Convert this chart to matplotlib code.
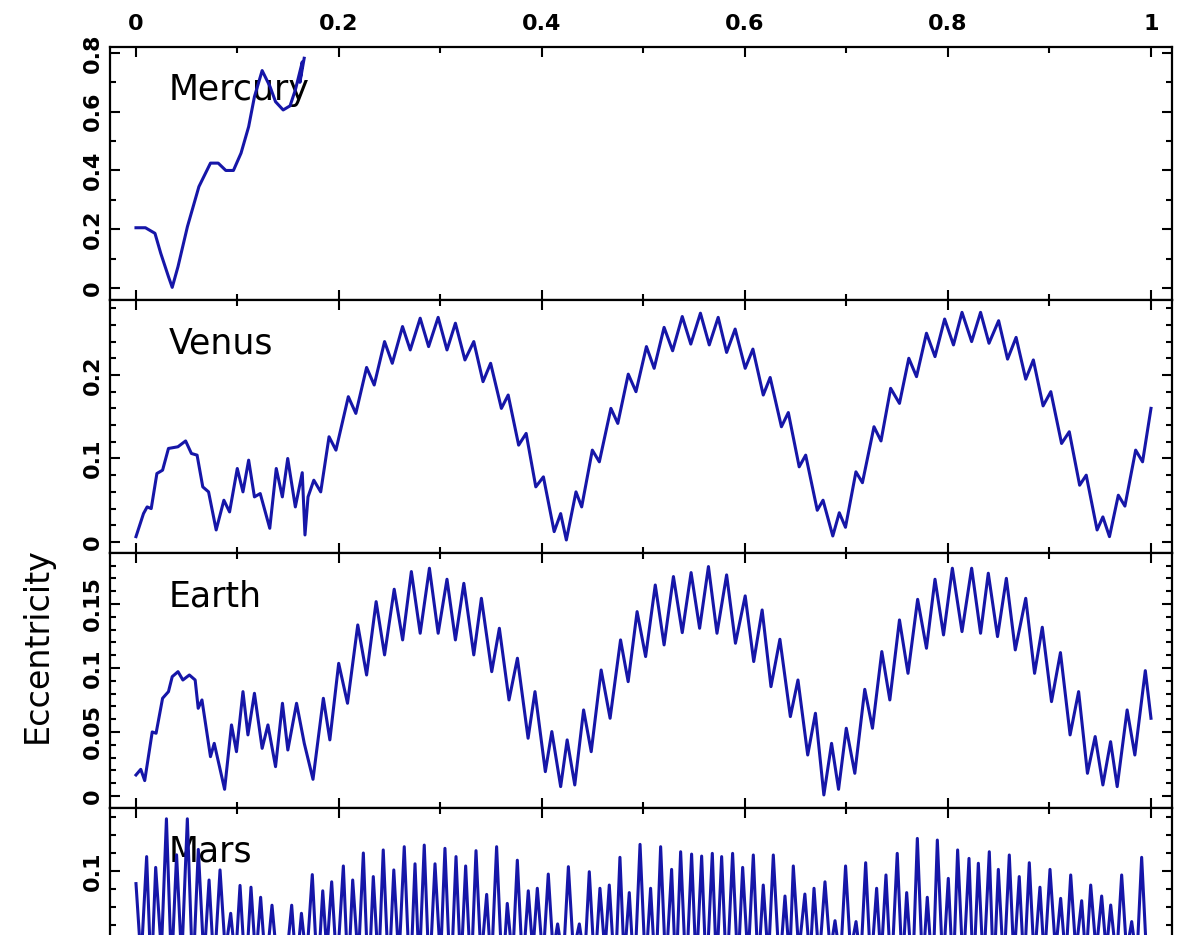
import numpy as np
import matplotlib
matplotlib.use('Agg')
import matplotlib.pyplot as plt
from matplotlib.ticker import MultipleLocator

# eccentricity of the inner planets vs. time (normalised)

mercury_t = [0.0, 0.0093, 0.0187, 0.0244, 0.032, 0.0357, 0.0414, 0.0507, 0.062,
             0.0734, 0.081, 0.0885, 0.096, 0.1035, 0.111, 0.1167, 0.1243, 0.132,
             0.1375, 0.145, 0.1518, 0.157, 0.1639, 0.1615, 0.1657]
mercury_e = [0.205, 0.205, 0.186, 0.118, 0.0385, 0.002, 0.0726, 0.209, 0.345,
             0.425, 0.425, 0.40, 0.40, 0.459, 0.549, 0.651, 0.74, 0.686,
             0.634, 0.606, 0.62, 0.674, 0.77, 0.70, 0.782]

venus_t = [0.0, 0.0074, 0.011, 0.015, 0.0206, 0.0262, 0.032, 0.0413, 0.0489, 0.0546,
           0.0602, 0.0658, 0.0715, 0.079, 0.0866, 0.0922, 0.0998, 0.1054, 0.111, 0.1167,
           0.1224, 0.1318, 0.1382, 0.1442, 0.1495, 0.157, 0.1638, 0.1665, 0.1695, 0.1752,
           0.182, 0.1902, 0.197, 0.2092, 0.2166, 0.2272, 0.2347, 0.2449, 0.2525, 0.2626,
           0.2702, 0.28, 0.2883, 0.2977, 0.3064, 0.3147, 0.3241, 0.3328, 0.3419, 0.3494,
           0.36, 0.3667, 0.377, 0.3844, 0.3939, 0.4014, 0.412, 0.4184, 0.424, 0.4335,
           0.4391, 0.4496, 0.4565, 0.4679, 0.4747, 0.485, 0.4926, 0.5029, 0.5105, 0.5203,
           0.5287, 0.5382, 0.5466, 0.5561, 0.5648, 0.5736, 0.5819, 0.5903, 0.6002, 0.6078,
           0.618, 0.6248, 0.6359, 0.6427, 0.6534, 0.6598, 0.6712, 0.6769, 0.6865, 0.6929,
           0.699, 0.7093, 0.7157, 0.7271, 0.734, 0.7435, 0.7522, 0.7614, 0.769, 0.7788,
           0.7872, 0.7967, 0.8054, 0.8138, 0.8233, 0.8321, 0.8404, 0.8499, 0.8587, 0.8671,
           0.8766, 0.8841, 0.8937, 0.9013, 0.9119, 0.9195, 0.9297, 0.9362, 0.9469, 0.9526,
           0.9591, 0.9678, 0.9743, 0.9849, 0.9917, 1.0]
venus_e = [0.0064, 0.034, 0.042, 0.040, 0.082, 0.086, 0.112, 0.114, 0.121, 0.106,
           0.104, 0.066, 0.060, 0.0144, 0.050, 0.036, 0.088, 0.060, 0.098, 0.054,
           0.058, 0.0164, 0.088, 0.054, 0.100, 0.042, 0.083, 0.0084, 0.054, 0.074,
           0.060, 0.126, 0.110, 0.174, 0.154, 0.209, 0.188, 0.240, 0.214, 0.258,
           0.230, 0.268, 0.234, 0.269, 0.230, 0.262, 0.218, 0.240, 0.192, 0.214,
           0.160, 0.176, 0.116, 0.130, 0.066, 0.078, 0.0124, 0.034, 0.0024, 0.060,
           0.042, 0.110, 0.096, 0.160, 0.142, 0.201, 0.180, 0.234, 0.208, 0.257,
           0.229, 0.270, 0.237, 0.274, 0.236, 0.269, 0.227, 0.255, 0.208, 0.231,
           0.176, 0.197, 0.138, 0.155, 0.090, 0.104, 0.038, 0.050, 0.0072, 0.035,
           0.0176, 0.084, 0.071, 0.138, 0.121, 0.184, 0.166, 0.220, 0.198, 0.250,
           0.222, 0.267, 0.236, 0.275, 0.240, 0.275, 0.238, 0.265, 0.219, 0.245,
           0.195, 0.218, 0.163, 0.180, 0.118, 0.132, 0.068, 0.080, 0.0144, 0.030,
           0.0064, 0.056, 0.043, 0.110, 0.096, 0.160]

earth_t = [0.0, 0.0047, 0.0086, 0.016, 0.0198, 0.0262, 0.032, 0.0357, 0.0414, 0.0462,
           0.0526, 0.0583, 0.0613, 0.065, 0.0734, 0.0771, 0.0873, 0.0941, 0.099, 0.1054,
           0.1103, 0.1167, 0.1243, 0.13, 0.1375, 0.1443, 0.1496, 0.1582, 0.1658, 0.1744,
           0.1846, 0.191, 0.1997, 0.2084, 0.2185, 0.2272, 0.2366, 0.2449, 0.2544, 0.2627,
           0.2713, 0.28, 0.2891, 0.2977, 0.3064, 0.3147, 0.323, 0.3328, 0.3403, 0.3505,
           0.358, 0.3675, 0.3758, 0.3863, 0.3931, 0.4033, 0.4097, 0.4184, 0.4248, 0.4323,
           0.441, 0.4485, 0.4583, 0.4671, 0.4774, 0.4849, 0.4937, 0.5021, 0.5116, 0.5203,
           0.5295, 0.5382, 0.5469, 0.5553, 0.564, 0.5724, 0.5819, 0.5906, 0.6002, 0.6086,
           0.6169, 0.6256, 0.6344, 0.6447, 0.6522, 0.6618, 0.6694, 0.6777, 0.6853, 0.6922,
           0.6998, 0.7082, 0.718, 0.7256, 0.7348, 0.7427, 0.7522, 0.7606, 0.7701, 0.7788,
           0.7872, 0.7956, 0.8043, 0.8138, 0.8233, 0.8321, 0.8397, 0.8488, 0.8575, 0.8663,
           0.8766, 0.8853, 0.8929, 0.902, 0.9108, 0.9203, 0.9287, 0.9374, 0.945, 0.9526,
           0.9602, 0.9667, 0.9765, 0.9841, 0.9944, 1.0]
earth_e = [0.0164, 0.0208, 0.012, 0.050, 0.049, 0.0763, 0.0815, 0.0932, 0.0971, 0.0906,
           0.0945, 0.0906, 0.0685, 0.075, 0.0307, 0.0411, 0.0052, 0.0555, 0.0346, 0.0815,
           0.0477, 0.0802, 0.0372, 0.0555, 0.0229, 0.0724, 0.0359, 0.0724, 0.0411, 0.013,
           0.0763, 0.0438, 0.1036, 0.0724, 0.1336, 0.0945, 0.1518, 0.1102, 0.1615, 0.1219,
           0.1753, 0.1271, 0.1779, 0.1271, 0.1693, 0.1219, 0.1661, 0.1102, 0.1544, 0.0971,
           0.131, 0.075, 0.1076, 0.0451, 0.0815, 0.019, 0.0503, 0.0073, 0.0438, 0.0086,
           0.0672, 0.0346, 0.0984, 0.0607, 0.1219, 0.0893, 0.144, 0.1089, 0.1648, 0.118,
           0.1714, 0.1276, 0.1745, 0.131, 0.1792, 0.1271, 0.1727, 0.1193, 0.1563, 0.105,
           0.1453, 0.0854, 0.1224, 0.062, 0.0906, 0.032, 0.0646, 0.0008, 0.0411, 0.0052,
           0.0529, 0.0177, 0.0833, 0.0529, 0.1128, 0.075, 0.1375, 0.0958, 0.1536, 0.1154,
           0.1693, 0.1258, 0.1779, 0.1284, 0.1779, 0.1271, 0.174, 0.1245, 0.170, 0.1141,
           0.1544, 0.0958, 0.1318, 0.0737, 0.112, 0.0477, 0.0815, 0.0177, 0.0464, 0.0086,
           0.0424, 0.0073, 0.0672, 0.032, 0.0979, 0.0607]

# Mars: peaks are visible, troughs fall below the cropped bottom edge (estimated)
mars_peak_t = [0.0, 0.0105, 0.0194, 0.030, 0.040, 0.0506, 0.0614, 0.072, 0.0828, 0.0933,
               0.1025, 0.1133, 0.1228, 0.134, 0.144, 0.1534, 0.163, 0.1737, 0.184, 0.1928,
               0.2043, 0.2135, 0.224, 0.2338, 0.2436, 0.254, 0.2643, 0.2749, 0.284, 0.2946,
               0.3044, 0.3153, 0.3248, 0.335, 0.3455, 0.3553, 0.3658, 0.3757, 0.3865, 0.3954,
               0.4062, 0.4154, 0.426, 0.4368, 0.4466, 0.4571, 0.4663, 0.4768, 0.486, 0.4966,
               0.507, 0.5169, 0.5277, 0.5366, 0.5474, 0.5573, 0.5678, 0.577, 0.5878, 0.5977,
               0.6082, 0.618, 0.6279, 0.6394, 0.6476, 0.659, 0.668, 0.6788, 0.6887, 0.6991,
               0.7094, 0.7189, 0.7297, 0.7389, 0.75, 0.7593, 0.7698, 0.7796, 0.7895, 0.8003,
               0.8095, 0.8207, 0.8299, 0.8407, 0.8496, 0.8604, 0.8702, 0.8801, 0.8906, 0.9005,
               0.911, 0.9209, 0.9317, 0.9406, 0.9514, 0.9603, 0.9711, 0.981, 0.9908]
mars_peak_e = [0.093, 0.108, 0.102, 0.129, 0.109, 0.129, 0.112, 0.095, 0.1006, 0.0765,
               0.092, 0.091, 0.0854, 0.081, 0.060, 0.081, 0.0765, 0.098, 0.089, 0.094,
               0.1028, 0.095, 0.110, 0.0969, 0.1117, 0.1006, 0.1135, 0.104, 0.1144, 0.104,
               0.1126, 0.108, 0.1028, 0.1113, 0.087, 0.1135, 0.082, 0.106, 0.089, 0.0904,
               0.0983, 0.0706, 0.1024, 0.0706, 0.0996, 0.0904, 0.0922, 0.1076, 0.088, 0.1148,
               0.0904, 0.1135, 0.1009, 0.1107, 0.1094, 0.1083, 0.1098, 0.108, 0.1098, 0.102,
               0.1089, 0.0922, 0.1089, 0.0861, 0.1028, 0.0872, 0.0904, 0.094, 0.0724, 0.1028,
               0.0719, 0.1046, 0.0904, 0.0978, 0.1098, 0.088, 0.1181, 0.0854, 0.1172, 0.0959,
               0.1117, 0.107, 0.1043, 0.1107, 0.1009, 0.1089, 0.0969, 0.1046, 0.091, 0.1009,
               0.0848, 0.0978, 0.0835, 0.0922, 0.0861, 0.0811, 0.0978, 0.0719, 0.1076]
mars_trough_t = [0.005, 0.015, 0.025, 0.035, 0.045, 0.056, 0.067, 0.077, 0.088, 0.098,
                 0.108, 0.118, 0.128, 0.139, 0.149, 0.158, 0.168, 0.179, 0.188, 0.198,
                 0.209, 0.219, 0.229, 0.239, 0.249, 0.259, 0.270, 0.279, 0.289, 0.300,
                 0.310, 0.320, 0.330, 0.340, 0.350, 0.361, 0.371, 0.381, 0.391, 0.401,
                 0.411, 0.421, 0.431, 0.442, 0.452, 0.462, 0.472, 0.481, 0.491, 0.502,
                 0.512, 0.522, 0.532, 0.542, 0.552, 0.562, 0.572, 0.582, 0.593, 0.603,
                 0.613, 0.623, 0.634, 0.644, 0.653, 0.664, 0.673, 0.684, 0.694, 0.704,
                 0.714, 0.724, 0.734, 0.744, 0.755, 0.765, 0.775, 0.785, 0.795, 0.805,
                 0.815, 0.825, 0.835, 0.845, 0.855, 0.865, 0.875, 0.885, 0.895, 0.906,
                 0.916, 0.926, 0.936, 0.946, 0.956, 0.966, 0.976, 0.986, 0.995]
mars_trough_e = [0.05, 0.04, 0.055, 0.045, 0.05, 0.04, 0.05, 0.045, 0.055, 0.05,
                 0.04, 0.05, 0.045, 0.05, 0.055, 0.045, 0.05, 0.04, 0.055, 0.045,
                 0.04, 0.05, 0.035, 0.045, 0.04, 0.05, 0.035, 0.045, 0.04, 0.05,
                 0.035, 0.045, 0.04, 0.05, 0.045, 0.04, 0.05, 0.045, 0.055, 0.05,
                 0.055, 0.05, 0.055, 0.05, 0.045, 0.055, 0.04, 0.05, 0.04, 0.045,
                 0.04, 0.045, 0.04, 0.04, 0.045, 0.04, 0.045, 0.04, 0.045, 0.05,
                 0.045, 0.05, 0.045, 0.05, 0.055, 0.05, 0.05, 0.055, 0.05, 0.055,
                 0.05, 0.045, 0.05, 0.04, 0.045, 0.04, 0.045, 0.04, 0.045, 0.04,
                 0.045, 0.04, 0.045, 0.04, 0.045, 0.05, 0.045, 0.05, 0.05, 0.055,
                 0.05, 0.055, 0.05, 0.055, 0.055, 0.05, 0.055, 0.05, 0.06]

# merge peaks and troughs into one time-ordered series
mars_t = np.concatenate([mars_peak_t, mars_trough_t])
mars_e = np.concatenate([mars_peak_e, mars_trough_e])
order = np.argsort(mars_t)
mars_t, mars_e = mars_t[order], mars_e[order]

x_ticks = [0, 0.2, 0.4, 0.6, 0.8, 1.0]
x_ticklabels = ['0', '0.2', '0.4', '0.6', '0.8', '1']

panels = [
    # name, t, e, ylim, major ticks, labels, minor step
    ('Mercury', mercury_t, mercury_e, (-0.041, 0.822), [0, 0.2, 0.4, 0.6, 0.8],
     ['0', '0.2', '0.4', '0.6', '0.8'], 0.1),
    ('Venus', venus_t, venus_e, (-0.0132, 0.2898), [0, 0.1, 0.2],
     ['0', '0.1', '0.2'], 0.02),
    ('Earth', earth_t, earth_e, (-0.0094, 0.1898), [0, 0.05, 0.1, 0.15],
     ['0', '0.05', '0.1', '0.15'], 0.01),
    # lower labels of Mars fall outside the cropped picture
    ('Mars', mars_t, mars_e, (-0.0061, 0.135), [0, 0.05, 0.1],
     ['', '', '0.1'], 0.01),
]

W, H = 1182, 935
fig = plt.figure(figsize=(W / 100, H / 100), dpi=100)
fig.patch.set_facecolor('white')

# panel edges in pixels (top, bottom); the last panel runs off the bottom
edges = [(46.5, 300), (300, 553), (553, 808), (808, 1062)]
left_px, right_px = 110, 1172
line_col = '#1616a8'

for i, (name, t, e, ylim, yt, ytl, minor) in enumerate(panels):
    top, bot = edges[i]
    ax = fig.add_axes([left_px / W, 1 - bot / H, (right_px - left_px) / W, (bot - top) / H])
    ax.plot(t, e, color=line_col, lw=2.2, solid_joinstyle='round', zorder=3)
    ax.set_xlim(-0.0256, 1.0207)
    ax.set_ylim(*ylim)

    ax.set_xticks(x_ticks)
    ax.xaxis.set_minor_locator(MultipleLocator(0.1))
    ax.set_yticks(yt)
    ax.yaxis.set_minor_locator(MultipleLocator(minor))

    ax.tick_params(which='both', direction='in', top=True, right=True, width=1.5,
                   labelbottom=False, labeltop=(i == 0))
    ax.tick_params(which='major', length=7)
    ax.tick_params(which='minor', length=4.5)
    ax.tick_params(axis='x', pad=9)
    ax.tick_params(axis='y', pad=5)
    if i == 0:
        ax.set_xticklabels(x_ticklabels, fontsize=16, fontweight='bold')
    ax.set_yticklabels(ytl, fontsize=16, fontweight='bold', rotation=90, va='center')
    for s in ax.spines.values():
        s.set_linewidth(1.6)

    # planet name sits under the curve, as in the original
    ax.text(0.032, 0.79, name, transform=ax.get_xaxis_transform(),
            fontsize=25, ha='left', va='baseline', zorder=1)

fig.text(37 / W, 1 - 645 / H, 'Eccentricity', rotation=90, fontsize=24,
         ha='center', va='center')

plt.savefig('out.png', dpi=100)
